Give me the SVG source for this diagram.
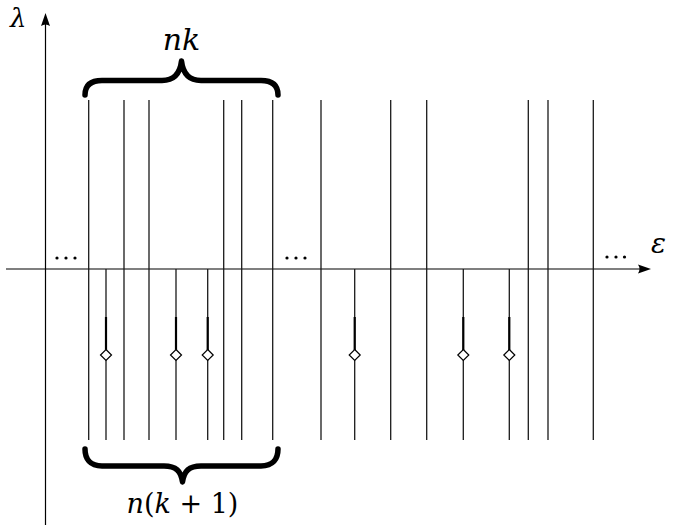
<svg xmlns="http://www.w3.org/2000/svg" width="677" height="532" viewBox="0 0 677 532">
<style>
.ax{stroke:#000;stroke-width:1.2;fill:none}
.ln{stroke:#1a1a1a;stroke-width:1.3;fill:none}
.th{stroke:#000;stroke-width:2.2;fill:none}
.dm{fill:#fff;stroke:#000;stroke-width:1.2}
.br{stroke:#000;stroke-width:5.5;fill:none;stroke-linecap:round;stroke-linejoin:round}
.t{font-family:'DejaVu Serif','Liberation Serif',serif;font-style:italic;fill:#000}
.r{font-style:normal}
.dot{fill:#000}
</style>
<g id="axes">
<line class="ax" x1="6" y1="269" x2="642" y2="269"/>
<path d="M651,269 L638,264.5 Q641,269 638,273.5 Z" fill="#000"/>
<line class="ax" x1="45.5" y1="525" x2="45.5" y2="22"/>
<path d="M45.5,13 L41,26 Q45.5,23 50,26 Z" fill="#000"/>
<text class="t" x="10" y="27" font-size="26">λ</text>
<text class="t" x="651" y="253" font-size="28">ε</text>
</g>
<g id="dots">
<circle class="dot" cx="57" cy="258" r="1.6"/><circle class="dot" cx="66" cy="258" r="1.6"/><circle class="dot" cx="75" cy="258" r="1.6"/>
<circle class="dot" cx="287" cy="258" r="1.6"/><circle class="dot" cx="296" cy="258" r="1.6"/><circle class="dot" cx="305" cy="258" r="1.6"/>
<circle class="dot" cx="607" cy="257" r="1.6"/><circle class="dot" cx="616" cy="257" r="1.6"/><circle class="dot" cx="624.5" cy="257" r="1.6"/>
</g>
<g id="tall-lines">
<line class="ln" x1="88.7" y1="100" x2="88.7" y2="440"/>
<line class="ln" x1="124" y1="100" x2="124" y2="440"/>
<line class="ln" x1="149" y1="100" x2="149" y2="440"/>
<line class="ln" x1="223.7" y1="100" x2="223.7" y2="440"/>
<line class="ln" x1="241.7" y1="100" x2="241.7" y2="440"/>
<line class="ln" x1="272.7" y1="100" x2="272.7" y2="440"/>
<line class="ln" x1="321" y1="100" x2="321" y2="440"/>
<line class="ln" x1="390.7" y1="100" x2="390.7" y2="440"/>
<line class="ln" x1="426.7" y1="100" x2="426.7" y2="440"/>
<line class="ln" x1="528.3" y1="100" x2="528.3" y2="440"/>
<line class="ln" x1="548" y1="100" x2="548" y2="440"/>
<line class="ln" x1="593.3" y1="100" x2="593.3" y2="440"/>
</g>
<g id="short-lines">
<g id="s1"><line class="ln" x1="106" y1="269" x2="106" y2="440"/><line class="th" x1="106" y1="317" x2="106" y2="350"/><path class="dm" d="M106,349.5 L111.5,355 L106,360.5 L100.5,355 Z"/></g>
<g id="s2"><line class="ln" x1="176" y1="269" x2="176" y2="440"/><line class="th" x1="176" y1="317" x2="176" y2="350"/><path class="dm" d="M176,349.5 L181.5,355 L176,360.5 L170.5,355 Z"/></g>
<g id="s3"><line class="ln" x1="207.7" y1="269" x2="207.7" y2="440"/><line class="th" x1="207.7" y1="317" x2="207.7" y2="350"/><path class="dm" d="M207.7,349.5 L213.2,355 L207.7,360.5 L202.2,355 Z"/></g>
<g id="s4"><line class="ln" x1="354.7" y1="269" x2="354.7" y2="440"/><line class="th" x1="354.7" y1="317" x2="354.7" y2="350"/><path class="dm" d="M354.7,349.5 L360.2,355 L354.7,360.5 L349.2,355 Z"/></g>
<g id="s5"><line class="ln" x1="463.3" y1="269" x2="463.3" y2="440"/><line class="th" x1="463.3" y1="317" x2="463.3" y2="350"/><path class="dm" d="M463.3,349.5 L468.8,355 L463.3,360.5 L457.8,355 Z"/></g>
<g id="s6"><line class="ln" x1="509.3" y1="269" x2="509.3" y2="440"/><line class="th" x1="509.3" y1="317" x2="509.3" y2="350"/><path class="dm" d="M509.3,349.5 L514.8,355 L509.3,360.5 L503.8,355 Z"/></g>
</g>
<g id="top-brace">
<path class="br" d="M85,95 C85,86 90,80.5 102,80.5 L162,80.5 C174,80.5 180,74 181.5,61 C183,74 189,80.5 201,80.5 L261,80.5 C273,80.5 278,86 278,95"/>
<text class="t" x="181.5" y="50" font-size="30" text-anchor="middle">nk</text>
</g>
<g id="bottom-brace">
<path class="br" d="M85,449 C85,459 90,466 102,466 L164,466 C176,466 181,471 182.5,482 C184,471 189,466 201,466 L261,466 C273,466 278,459 278,449"/>
<text class="t" x="182.5" y="513" font-size="27" text-anchor="middle">n<tspan class="r">(</tspan>k<tspan class="r"> + 1)</tspan></text>
</g>
</svg>
